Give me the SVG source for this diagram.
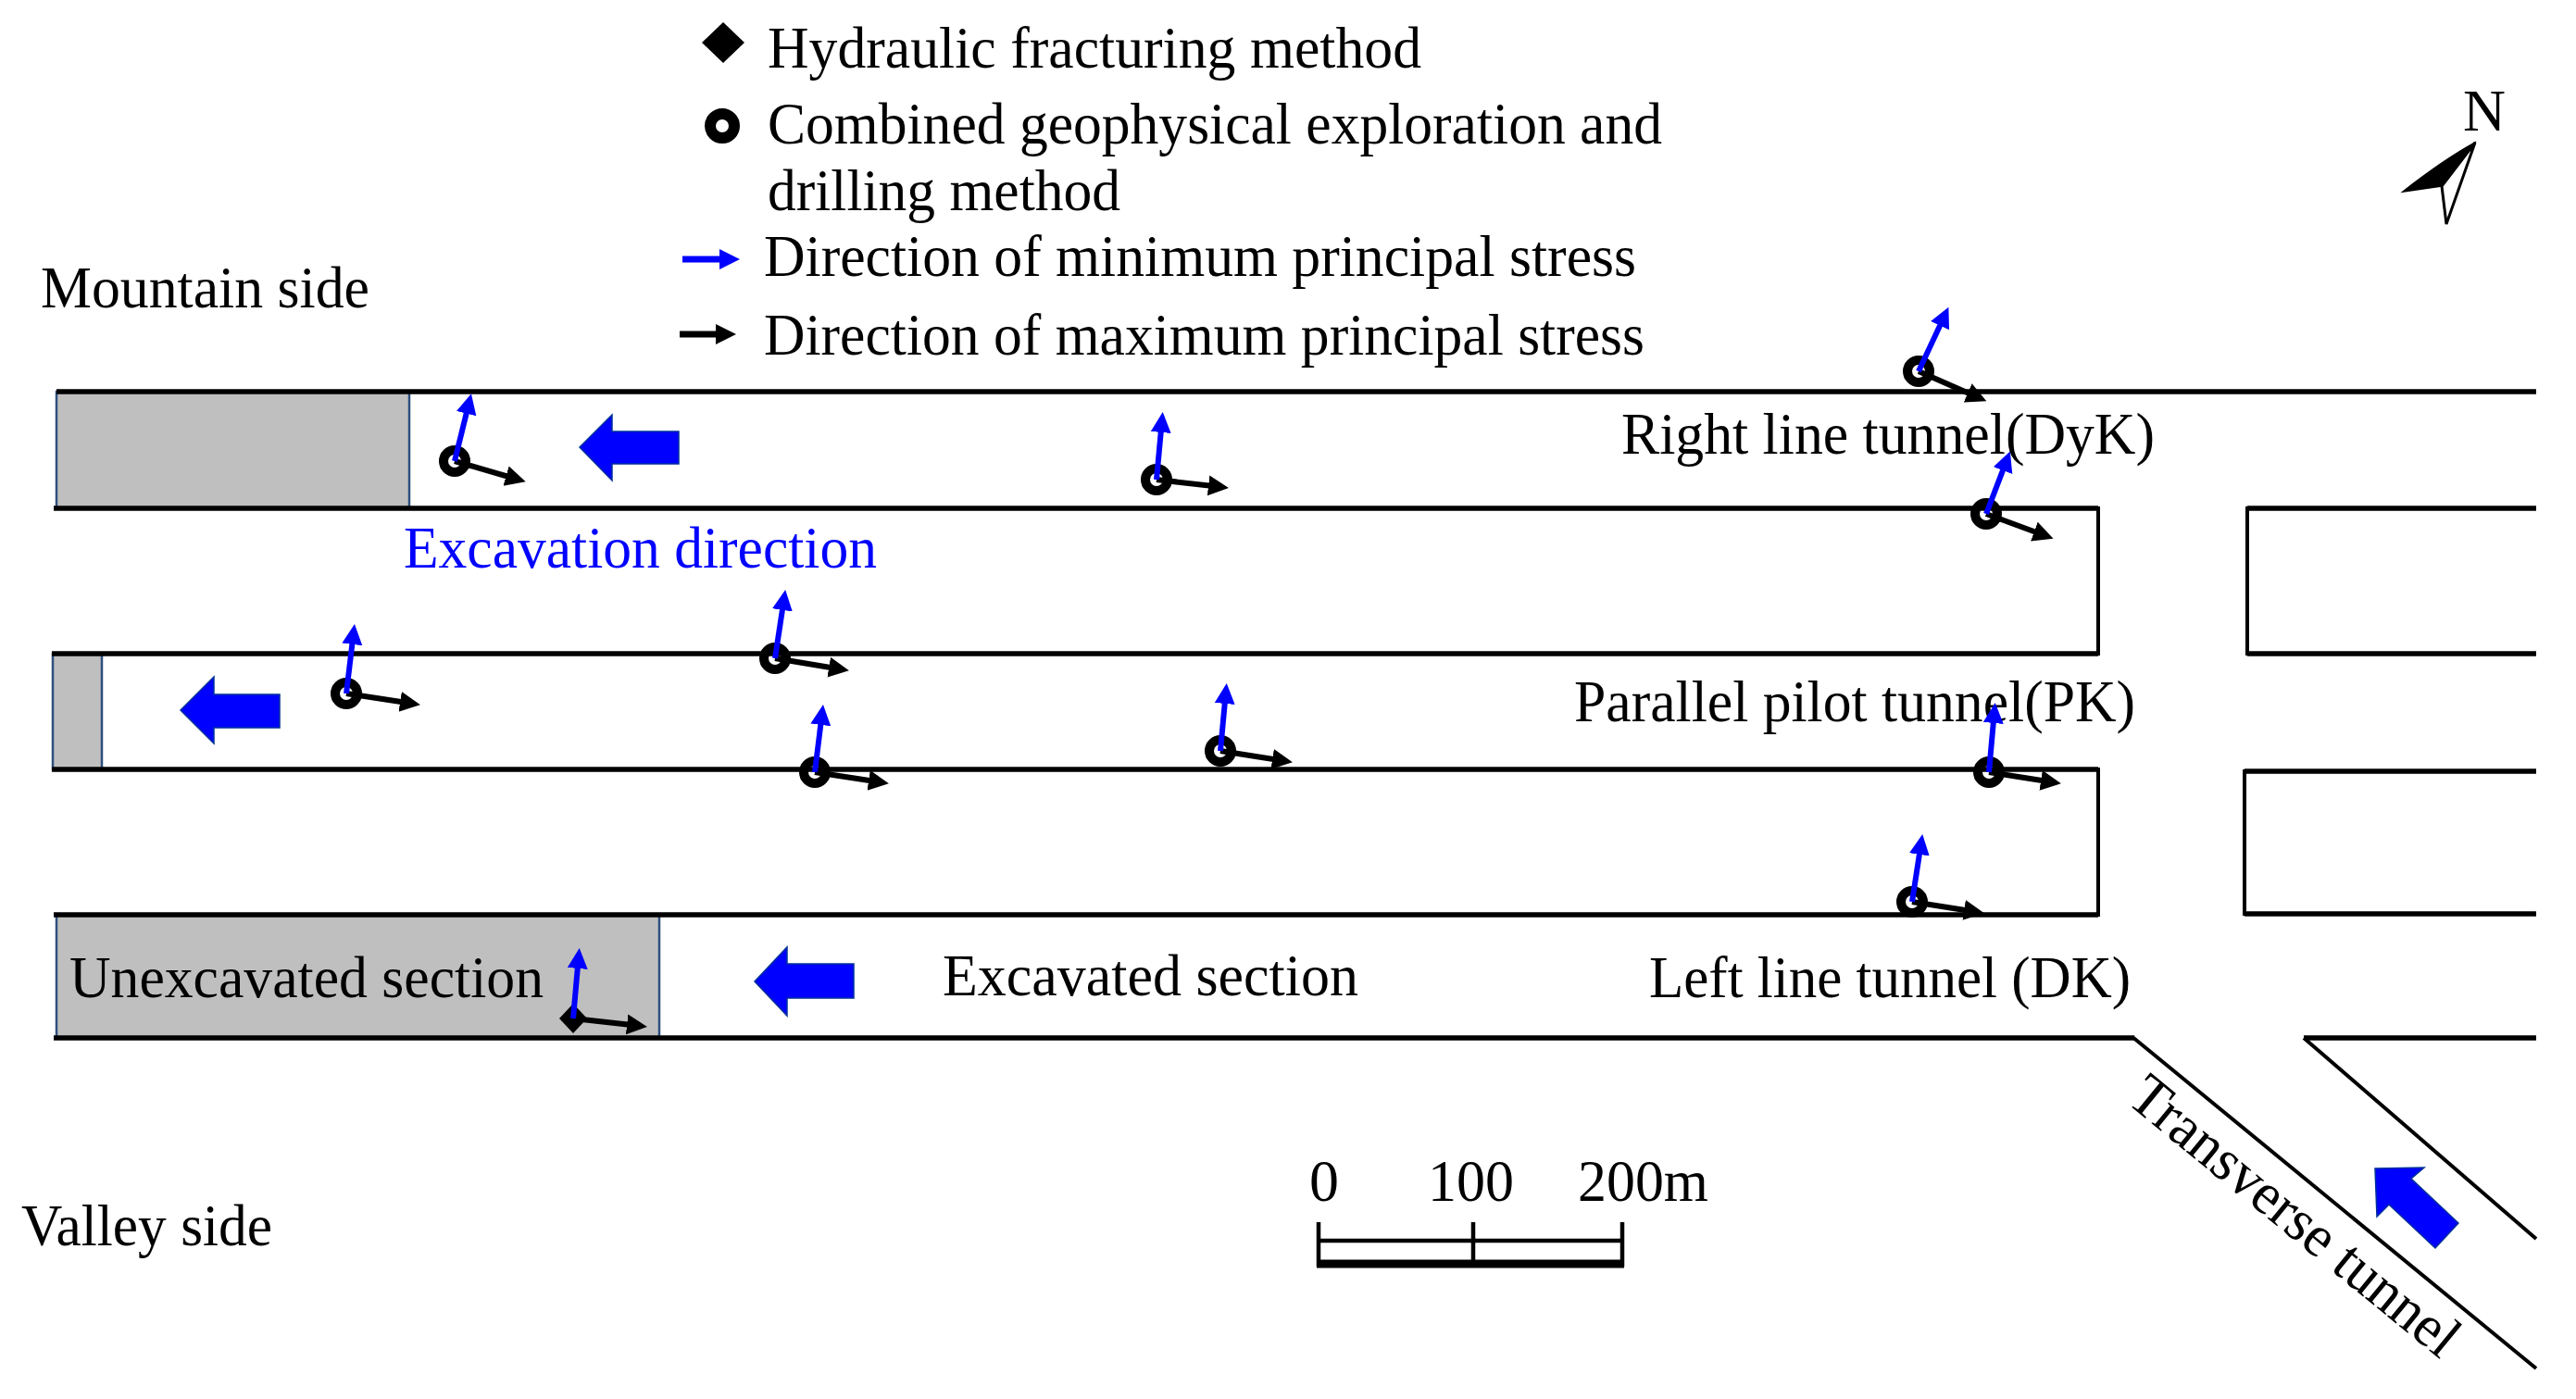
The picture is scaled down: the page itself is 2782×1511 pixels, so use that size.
<svg xmlns="http://www.w3.org/2000/svg" width="2782" height="1511" viewBox="0 0 2782 1511">
<style>
text{font-family:"Liberation Serif","Times New Roman",serif;font-size:64px;fill:#000}
.b{fill:#0000ff}
.wall{fill:none;stroke:#000;stroke-width:5.5;stroke-linejoin:miter}
.thin{fill:none;stroke:#000;stroke-width:4}
.un{fill:#bfbfbf;stroke:#2f4f7f;stroke-width:2.5}
.min{stroke:#0000ff;stroke-width:6;fill:none;marker-end:url(#mb)}
.max{stroke:#000;stroke-width:6;fill:none;marker-end:url(#mk)}
.ring{fill:none;stroke:#000;stroke-width:10}
.big{fill:#0000ff;stroke:#00309a;stroke-width:1.5}
</style>
<defs>
<marker id="mb" markerUnits="userSpaceOnUse" markerWidth="24" markerHeight="24" refX="14" refY="12" orient="auto"><path d="M0 1L22 12L0 23z" fill="#0000ff"/></marker>
<marker id="mk" markerUnits="userSpaceOnUse" markerWidth="24" markerHeight="24" refX="14" refY="12" orient="auto"><path d="M0 1L22 12L0 23z" fill="#000"/></marker>
</defs>
<rect width="2782" height="1511" fill="#fff"/>
<g id="unexcavated">
<rect class="un" x="61" y="423" width="381" height="126"/>
<rect class="un" x="57" y="706" width="53" height="125"/>
<rect class="un" x="61" y="988" width="651" height="133"/>
</g>
<g id="tunnel-walls">
<path class="wall" d="M61 423H2739"/>
<path class="wall" d="M58 549H2266"/>
<path class="wall" d="M56 706H2266"/>
<path class="thin" d="M2266 547V708"/>
<path class="wall" d="M56 831H2266"/>
<path class="wall" d="M58 988H2266"/>
<path class="thin" d="M2266 829V990"/>
<path class="wall" d="M58 1121H2305"/>
<path class="thin" d="M2303 1120L2739 1478"/>
<path class="wall" d="M2739 549H2427"/>
<path class="wall" d="M2739 706H2427"/>
<path class="thin" d="M2427 547V708"/>
<path class="wall" d="M2739 833H2424"/>
<path class="wall" d="M2739 987H2424"/>
<path class="thin" d="M2424 831V989"/>
<path class="wall" d="M2739 1121H2488"/>
<path class="thin" d="M2488 1121L2739 1338"/>
</g>
<g id="excavation-arrows">
<path class="big" d="M626 483L661 448V466H733V501H661V519z"/>
<path class="big" d="M195 767L231 731V750H302V786H231V803z"/>
<path class="big" d="M815 1060L850 1023V1041H922V1078H850V1097z"/>
<path class="big" d="M2565 1262L2618 1261L2604 1273L2655 1321L2630 1348L2580 1301L2567 1314z"/>
</g>
<g id="labels">
<text x="44" y="332" textLength="355" lengthAdjust="spacingAndGlyphs">Mountain side</text>
<text x="1751" y="490" textLength="576" lengthAdjust="spacingAndGlyphs">Right line tunnel(DyK)</text>
<text class="b" x="436" y="613" textLength="511" lengthAdjust="spacingAndGlyphs">Excavation direction</text>
<text x="1700" y="779" textLength="606" lengthAdjust="spacingAndGlyphs">Parallel pilot tunnel(PK)</text>
<text x="75" y="1077" textLength="512" lengthAdjust="spacingAndGlyphs">Unexcavated section</text>
<text x="1018" y="1075" textLength="449" lengthAdjust="spacingAndGlyphs">Excavated section</text>
<text x="1781" y="1077" textLength="520" lengthAdjust="spacingAndGlyphs">Left line tunnel (DK)</text>
<text x="23" y="1345" textLength="271" lengthAdjust="spacingAndGlyphs">Valley side</text>
<text transform="translate(2295 1190) rotate(39.3)" textLength="440" lengthAdjust="spacingAndGlyphs">Transverse tunnel</text>
</g>
<g id="points">
<circle class="ring" cx="491" cy="498" r="12"/>
<circle class="ring" cx="1249" cy="518" r="12"/>
<circle class="ring" cx="2072" cy="401" r="12"/>
<circle class="ring" cx="2145" cy="555" r="12"/>
<circle class="ring" cx="374" cy="749" r="12"/>
<circle class="ring" cx="837" cy="711" r="12"/>
<circle class="ring" cx="880" cy="834" r="12"/>
<circle class="ring" cx="1318" cy="811" r="12"/>
<circle class="ring" cx="2148" cy="834" r="12"/>
<circle class="ring" cx="2065" cy="974" r="12"/>
<path d="M619 1084L634 1100L619 1116L604 1100z" fill="#000"/>
</g>
<g id="connectors">
<path class="max" d="M491 498L560 518"/><path class="min" d="M491 498L507 433"/>
<path class="max" d="M1249 518L1319 526"/><path class="min" d="M1249 518L1255 453"/>
<path class="max" d="M2072 401L2138 430"/><path class="min" d="M2072 401L2101 339"/>
<path class="max" d="M2145 555L2210 579"/><path class="min" d="M2145 555L2168 495"/>
<path class="max" d="M374 749L446 760"/><path class="min" d="M374 749L382 682"/>
<path class="max" d="M837 711L909 723"/><path class="min" d="M837 711L847 645"/>
<path class="max" d="M880 834L952 845"/><path class="min" d="M880 834L888 769"/>
<path class="max" d="M1318 811L1388 822"/><path class="min" d="M1318 811L1324 746"/>
<path class="max" d="M2148 834L2218 845"/><path class="min" d="M2148 834L2154 767"/>
<path class="max" d="M2065 974L2135 985"/><path class="min" d="M2065 974L2075 909"/>
<path class="max" d="M619 1100L691 1108"/><path class="min" d="M619 1100L625 1032"/>
</g>
<g id="legend">
<path d="M781 24L804 46L781 68L758 46z" fill="#000"/>
<circle cx="780" cy="136" r="13" fill="none" stroke="#000" stroke-width="12"/>
<path d="M737 280H791" style="stroke:#0000ff;stroke-width:7;marker-end:url(#mb)"/>
<path d="M734 361H787" style="stroke:#000;stroke-width:7;marker-end:url(#mk)"/>
<text x="829" y="73" textLength="706" lengthAdjust="spacingAndGlyphs">Hydraulic fracturing method</text>
<text x="829" y="155" textLength="966" lengthAdjust="spacingAndGlyphs">Combined geophysical exploration and</text>
<text x="829" y="227" textLength="381" lengthAdjust="spacingAndGlyphs">drilling method</text>
<text x="825" y="298" textLength="942" lengthAdjust="spacingAndGlyphs">Direction of minimum principal stress</text>
<text x="825" y="383" textLength="951" lengthAdjust="spacingAndGlyphs">Direction of maximum principal stress</text>
</g>
<g id="north">
<path d="M2673 154Q2640 172 2595 207L2637 201Q2660 185 2673 154z" fill="#000" stroke="#000" stroke-width="1.5"/>
<path d="M2673 154L2637 201L2642 242z" fill="#fff" stroke="#000" stroke-width="3"/>
<text x="2660" y="141" textLength="46" lengthAdjust="spacingAndGlyphs">N</text>
</g>
<g id="scale-bar">
<path d="M1424 1320V1368M1591 1320V1368M1752 1320V1368M1424 1340H1752" fill="none" stroke="#000" stroke-width="4.5"/>
<path d="M1422 1365H1754" fill="none" stroke="#000" stroke-width="9"/>
<text x="1414" y="1297" textLength="32" lengthAdjust="spacingAndGlyphs">0</text>
<text x="1542" y="1297" textLength="93" lengthAdjust="spacingAndGlyphs">100</text>
<text x="1704" y="1297" textLength="141" lengthAdjust="spacingAndGlyphs">200m</text>
</g>
</svg>
